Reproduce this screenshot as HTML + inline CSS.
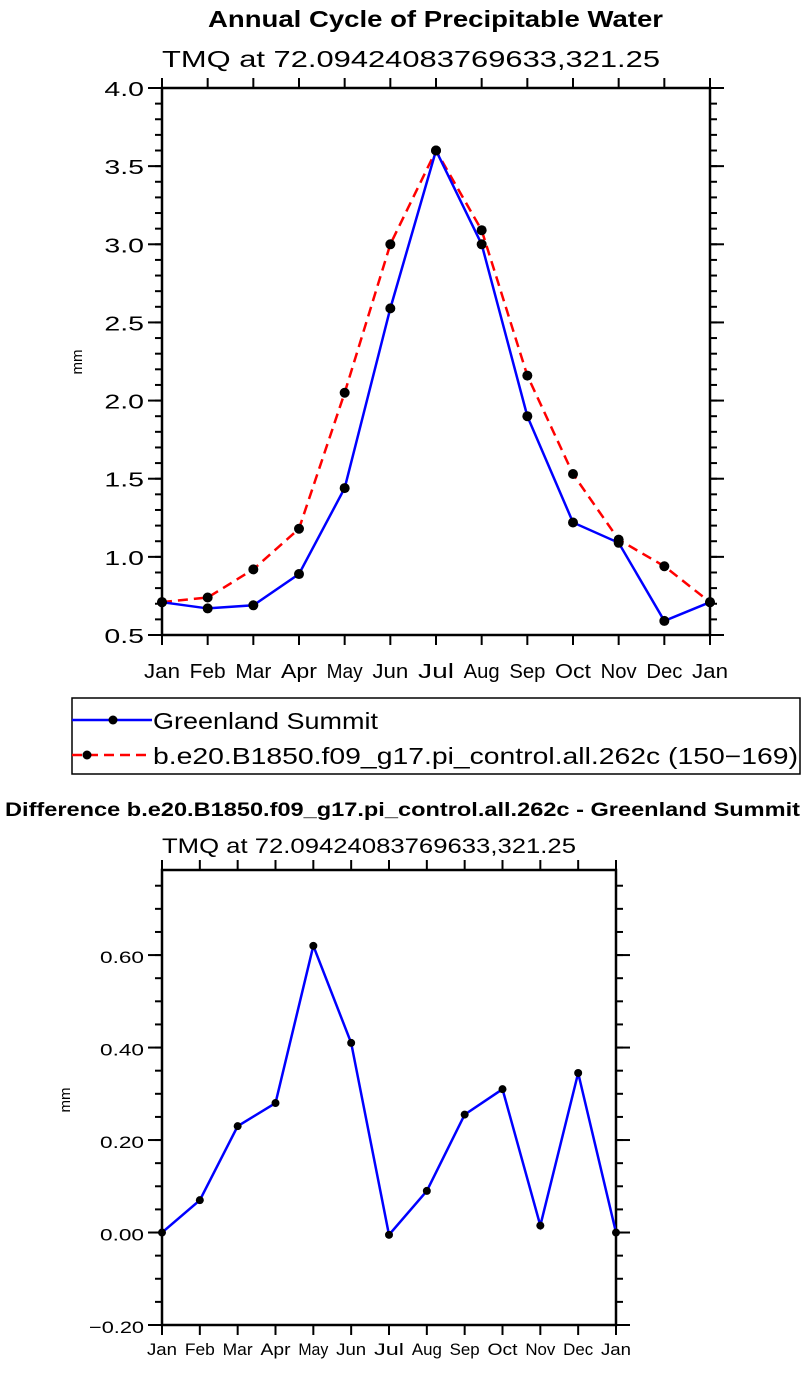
<!DOCTYPE html>
<html><head><meta charset="utf-8"><style>
body{margin:0;background:#fff;}
svg text{font-family:"Liberation Sans","DejaVu Sans",sans-serif;}
</style></head><body>
<svg id="svg" width="807" height="1368" viewBox="0 0 807 1368" xmlns="http://www.w3.org/2000/svg">
<text x="208" y="27" textLength="455" lengthAdjust="spacingAndGlyphs" font-size="23" font-weight="bold">Annual Cycle of Precipitable Water</text>
<text x="162" y="67" textLength="498" lengthAdjust="spacingAndGlyphs" font-size="23">TMQ  at  72.09424083769633,321.25</text>
<text x="82" y="362" text-anchor="middle" font-size="15" transform="rotate(-90 82 362)">mm</text>
<g id="top"></g>
<g>
<rect x="72" y="698" width="728" height="76" fill="none" stroke="#000" stroke-width="1.5"/>
<g>
<line x1="72" y1="720" x2="152" y2="720" stroke="#0000ff" stroke-width="2.5"/>
<circle cx="113" cy="720" r="4.5" fill="#000"/>
<text x="153" y="729" textLength="225" lengthAdjust="spacingAndGlyphs" font-size="23">Greenland  Summit</text></g>
<g>
<line x1="72" y1="755" x2="152" y2="755" stroke="#ff0000" stroke-width="2.5" stroke-dasharray="10,6"/>
<circle cx="87" cy="755" r="4.5" fill="#000"/>
<text x="153" y="764" textLength="645" lengthAdjust="spacingAndGlyphs" font-size="23">b.e20.B1850.f09_g17.pi_control.all.262c  (150−169)</text></g>
</g>
<text x="5" y="816" textLength="795" lengthAdjust="spacingAndGlyphs" font-size="19" font-weight="bold">Difference b.e20.B1850.f09_g17.pi_control.all.262c - Greenland Summit</text>
<text x="162" y="853" textLength="414" lengthAdjust="spacingAndGlyphs" font-size="21">TMQ  at  72.09424083769633,321.25</text>
<text x="70" y="1100" text-anchor="middle" font-size="15" transform="rotate(-90 70 1100)">mm</text>
<g id="bot"></g>
</svg>
<script>
const months = ["Jan","Feb","Mar","Apr","May","Jun","Jul","Aug","Sep","Oct","Nov","Dec","Jan"];
const obsValues = [0.71,0.67,0.69,0.89,1.44,2.59,3.60,3.00,1.90,1.22,1.09,0.59,0.71];
const modelValues = [0.71,0.74,0.92,1.18,2.05,3.00,3.60,3.09,2.16,1.53,1.11,0.94,0.71];
const diffValues = [0.00,0.07,0.23,0.28,0.62,0.41,-0.005,0.09,0.255,0.31,0.015,0.345,0.00];
const topTicks = ["0.5","1.0","1.5","2.0","2.5","3.0","3.5","4.0"];
const botTicks = ["-0.20","0.00","0.20","0.40","0.60"];
const NS="http://www.w3.org/2000/svg";
function mk(p,t,a){const e=document.createElementNS(NS,t);for(const k in a)e.setAttribute(k,a[k]);p.appendChild(e);return e;}
function plot(g,L,R,T,B,ymin,ymax,yticks,minorStep,series,labFs,charW,xOff){
  const xs=i=>L+(R-L)*i/(months.length-1);
  const ys=v=>B-(v-ymin)/(ymax-ymin)*(B-T);
  for(let i=0;i<months.length;i++){
    const x=xs(i);
    mk(g,'line',{x1:x,y1:B,x2:x,y2:B+10,stroke:'#000','stroke-width':2});
    mk(g,'line',{x1:x,y1:T,x2:x,y2:T-10,stroke:'#000','stroke-width':2});
    const t=mk(g,'text',{x:x-months[i].length*charW/2,y:B+xOff,'font-size':labFs,textLength:months[i].length*charW,lengthAdjust:'spacingAndGlyphs'});
    t.textContent=months[i];
    
    
  }
  for(let v=ymin;v<=ymax+1e-9;v+=minorStep){
    const y=ys(v);
    mk(g,'line',{x1:L-7,y1:y,x2:L,y2:y,stroke:'#000','stroke-width':2});
    mk(g,'line',{x1:R,y1:y,x2:R+7,y2:y,stroke:'#000','stroke-width':2});
  }
  yticks.forEach(s=>{
    const v=parseFloat(s),y=ys(v);
    mk(g,'line',{x1:L-14,y1:y,x2:L,y2:y,stroke:'#000','stroke-width':2});
    mk(g,'line',{x1:R,y1:y,x2:R+14,y2:y,stroke:'#000','stroke-width':2});
    const w=s.length*charW*1.1;
    const t=mk(g,'text',{x:L-18-w,y:y+8,'font-size':labFs,textLength:w,lengthAdjust:'spacingAndGlyphs'});
    t.textContent=s.replace('-','−');
    
    
  });
  mk(g,'rect',{x:L,y:T,width:R-L,height:B-T,fill:'none',stroke:'#000','stroke-width':2.5});
  series.forEach(s=>{
    const pts=s.vals.map((v,i)=>xs(i)+','+ys(v)).join(' ');
    const pl=mk(g,'polyline',{points:pts,fill:'none',stroke:s.color,'stroke-width':2.5,'stroke-dasharray':s.dash||'none'});
    
    
  });
  series.forEach(s=>{
    s.vals.forEach((v,i)=>{
      const c=mk(g,'circle',{cx:xs(i),cy:ys(v),r:s.r,fill:'#000'});
      
      
    });
  });
}
plot(document.getElementById('top'),162,710,88,635,0.5,4.0,topTicks,0.1,[
  {vals:modelValues,color:'#ff0000',dash:'10,6',name:'model-line',r:5},
  {vals:obsValues,color:'#0000ff',name:'greenland-line',r:5}],20,12,43);
plot(document.getElementById('bot'),162,616,870,1325,-0.2,0.784,botTicks,0.05,[
  {vals:diffValues,color:'#0000ff',name:'difference-line',r:4}],17,10,30);
</script>
</body></html>
